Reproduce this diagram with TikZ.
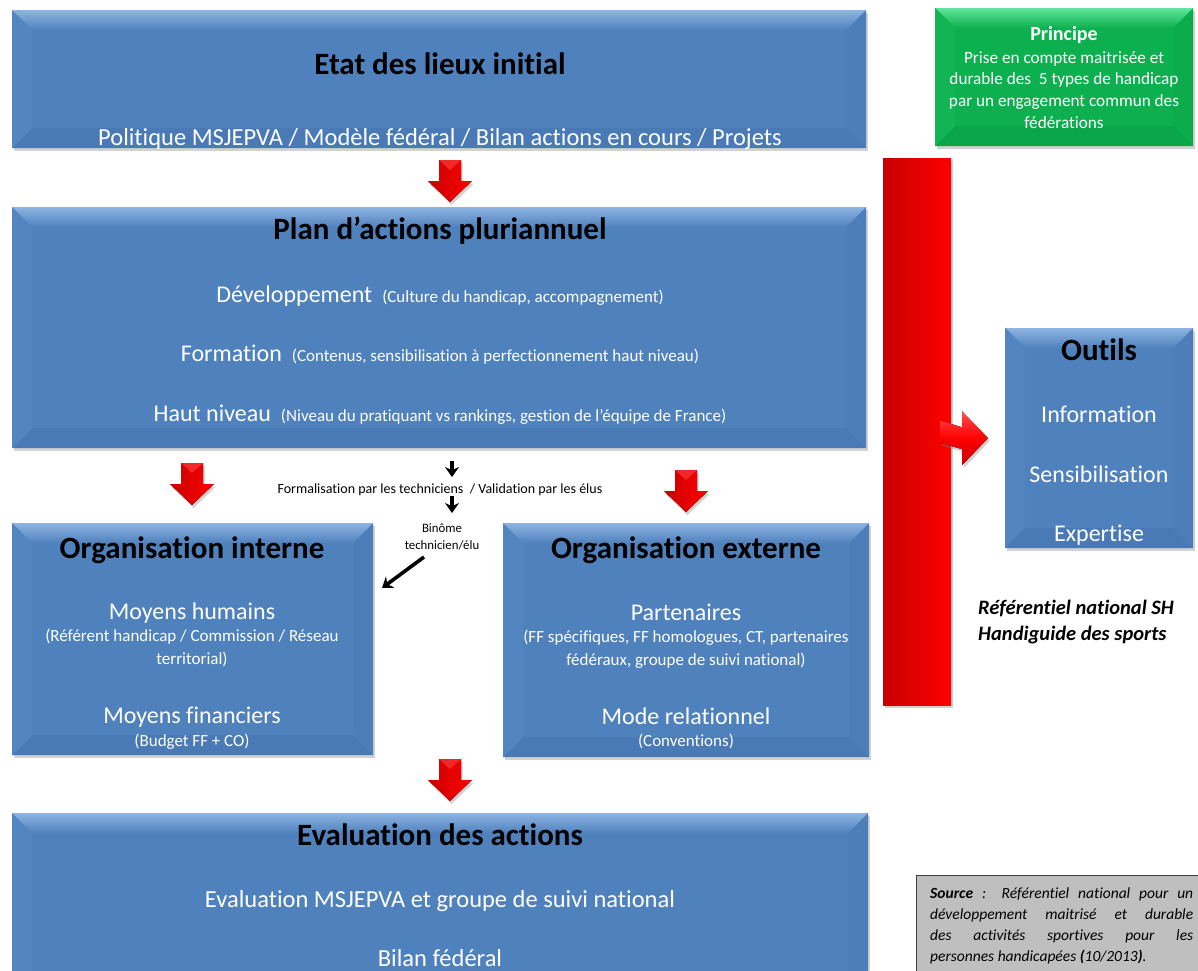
\documentclass[tikz,border=0pt]{standalone}
\usepackage{fontspec}
\setmainfont{Carlito}[Ligatures={NoCommon}]
\usetikzlibrary{calc,shadows,arrows.meta}
\definecolor{bbase}{HTML}{4F81BD}
\definecolor{blight}{HTML}{8DB3E2}
\definecolor{bdark}{HTML}{3E6BA4}
\definecolor{gbase}{HTML}{0DB04F}
\definecolor{glight}{HTML}{5FE59A}
\definecolor{gdark}{HTML}{078C3C}
\definecolor{rdark}{HTML}{C80000}
\definecolor{rlight}{HTML}{FF5050}
\definecolor{srcgray}{HTML}{BFBFBF}
\newcommand\fs[2]{\fontsize{#1}{#2}\selectfont}
\tikzset{
  myshadow/.style={drop shadow={shadow xshift=1.5pt,shadow yshift=-3pt,opacity=.35}},
  bevbox/.style n args={3}{fill=#1, draw=none, inner sep=0, myshadow,
    path picture={
      \def\bv{20}
      \path (path picture bounding box.north west) coordinate (pNW)
            (path picture bounding box.north east) coordinate (pNE)
            (path picture bounding box.south west) coordinate (pSW)
            (path picture bounding box.south east) coordinate (pSE);
      \fill[top color=#2, bottom color=#1] (pNW) -- (pNE) -- ($(pNE)+(-\bv,\bv)$) -- ($(pNW)+(\bv,\bv)$) -- cycle;
      \fill[#1!70!#3] (pSW) -- (pSE) -- ($(pSE)+(-\bv,-\bv)$) -- ($(pSW)+(\bv,-\bv)$) -- cycle;
      \fill[#1!93!#2] (pNW) -- ($(pNW)+(\bv,\bv)$) -- ($(pSW)+(\bv,-\bv)$) -- (pSW) -- cycle;
      \fill[#1!88!#3] (pNE) -- ($(pNE)+(-\bv,\bv)$) -- ($(pSE)+(-\bv,-\bv)$) -- (pSE) -- cycle;
    }},
  bluebox/.style={bevbox={bbase}{blight}{bdark}},
  greenbox/.style={bevbox={gbase}{glight}{gdark}},
  t/.style={inner sep=0, anchor=base, text=white},
  ttl/.style={t, text=black, font=\bfseries\fs{31}{36}},
  big/.style={t, font=\fs{24}{28}},
  par/.style={t, font=\fs{17}{20}},
  blk/.style={line width=3.6pt, -{Stealth[length=10pt,width=14pt]}},
  pics/rdown/.style={code={
    \fill[left color=rdark, right color=red, myshadow]
      (-11,0) -- (11,0) -- (11,21) -- (22,21) -- (0,42) -- (-22,21) -- (-11,21) -- cycle;
    \fill[rlight, opacity=.5] (-11,0) -- (11,0) -- (0,10) -- cycle;
  }}
}
\begin{document}
\begin{tikzpicture}[x=1pt,y=-1pt]
\useasboundingbox (0,0) rectangle (1198,970);
\fill[white] (0,0) rectangle (1198,970);

% ---- boxes
\node[bluebox, minimum width=854, minimum height=138, anchor=north west] (etat) at (12,10) {};
\node[bluebox, minimum width=854, minimum height=241, anchor=north west] (plan) at (12,207) {};
\node[bluebox, minimum width=361, minimum height=232, anchor=north west] (orgint) at (12,523) {};
\node[bluebox, minimum width=366, minimum height=234, anchor=north west] (orgext) at (503,523) {};
\node[bluebox, minimum width=856, minimum height=200, anchor=north west] (eval) at (12,813) {};
\node[bluebox, minimum width=188, minimum height=220, anchor=north west] (outils) at (1005,328) {};
\node[greenbox, minimum width=258, minimum height=138, anchor=north west] (princ) at (935,8) {};

% ---- red bar and its arrow
\node[draw=none, inner sep=0, minimum width=68, minimum height=547, anchor=north west,
      left color=rdark, right color=red, myshadow] (bar) at (883,158) {};
\fill[top color=rlight, bottom color=rdark, middle color=red, myshadow]
  ($(bar.east)+(-11,-11)$) -- ($(outils.west)+(-43,-11)$) -- ($(outils.west)+(-43,-27)$)
  -- ($(outils.west)+(-17,0)$) -- ($(outils.west)+(-43,27)$) -- ($(outils.west)+(-43,11)$)
  -- ($(bar.east)+(-11,11)$) -- cycle;

% ---- red block arrows between boxes
\coordinate (a1) at (450,160);
\coordinate (a2) at (192,463);
\coordinate (a3) at (686,470);
\coordinate (a4) at (450,759);
\pic at (a1) {rdown};
\pic at (a2) {rdown};
\pic at (a3) {rdown};
\pic at (a4) {rdown};

% ---- texts
\node[ttl] (etatT) at (440,74) {Etat des lieux initial};
\node[t, font=\fs{24.5}{28}] (etatS) at (440,145) {Politique MSJEPVA / Modèle fédéral / Bilan actions en cours / Projets};

\node[ttl] (planT) at (440,239) {Plan d’actions pluriannuel};
\node[big] (dev) at (440,302) {Développement\hspace{10pt}{\fs{17}{20}(Culture du handicap, accompagnement)}};
\node[big] (form) at (440,361) {Formation\hspace{10pt}{\fs{17}{20}(Contenus, sensibilisation à perfectionnement haut niveau)}};
\node[big] (haut) at (440,421) {Haut niveau\hspace{10pt}{\fs{17}{20}(Niveau du pratiquant vs rankings, gestion de l’équipe de France)}};

\node[ttl] (oiT) at (192,558) {Organisation interne};
\node[big] (mh) at (192,619) {Moyens humains};
\node[par] (mh1) at (192,641.5) {(Référent handicap / Commission / Réseau};
\node[par] (mh2) at (192,664.5) {territorial)};
\node[big] (mf) at (192,723) {Moyens financiers};
\node[par] (mf1) at (192,746.5) {(Budget FF + CO)};

\node[ttl] (oeT) at (686,558) {Organisation externe};
\node[big] (pa) at (686,620) {Partenaires};
\node[par] (pa1) at (686,642.5) {(FF spécifiques, FF homologues, CT, partenaires};
\node[par] (pa2) at (686,665.5) {fédéraux, groupe de suivi national)};
\node[big] (mr) at (686,724) {Mode relationnel};
\node[par] (mr1) at (686,746.5) {(Conventions)};

\node[ttl] (evT) at (440,845) {Evaluation des actions};
\node[t, font=\fs{24.5}{28}] (ev1) at (440,907) {Evaluation MSJEPVA et groupe de suivi national};
\node[t, font=\fs{24.5}{28}] (ev2) at (440,966) {Bilan fédéral};

\node[ttl] (ouT) at (1099,360) {Outils};
\node[big] (ou1) at (1099,422) {Information};
\node[big] (ou2) at (1099,482) {Sensibilisation};
\node[big] (ou3) at (1099,541) {Expertise};

\node[t, font=\bfseries\fs{20}{24}] (prT) at (1064,40) {Principe};
\node[t, font=\fs{17.2}{20}] (pr1) at (1064,63.6) {Prise en compte maitrisée et};
\node[t, font=\fs{17.2}{20}] (pr2) at (1064,84.8) {durable des~ 5 types de handicap};
\node[t, font=\fs{17.2}{20}] (pr3) at (1064,106.6) {par un engagement commun des};
\node[t, font=\fs{17.2}{20}] (pr4) at (1064,128.6) {fédérations};

\node[t, text=black, anchor=base west, font=\bfseries\itshape\fs{20.5}{24}] (ref1) at (978,614) {Référentiel national SH};
\node[t, text=black, anchor=base west, font=\bfseries\itshape\fs{20.5}{24}] (ref2) at (978,640) {Handiguide des sports};

% ---- middle black arrows and labels
\node[t, text=black, font=\fs{14}{16}] (formal) at (440,493.5) {Formalisation par les techniciens~ / Validation par les élus};
\node[t, text=black, font=\fs{12.8}{15}] (bin1) at (442,532) {Binôme};
\node[t, text=black, font=\fs{12.8}{15}] (bin2) at (442,549) {technicien/élu};
\coordinate (k1) at (452,461);
\coordinate (k2) at (452,477);
\coordinate (k3) at (452,496);
\coordinate (k4) at (452,513);
\draw[blk] (k1) -- (k2);
\draw[blk] (k3) -- (k4);
\coordinate (d1) at (424,557);
\coordinate (d2) at (382,588);
\draw[blk] (d1) -- (d2);

% ---- source box
\node[draw=black!75, fill=srcgray, line width=0.9pt, anchor=north west, minimum width=300,
      minimum height=120, inner sep=0] (srcbox) at (916,875) {};
\node[anchor=north west, text width=263, align=justify, inner sep=0,
      font=\itshape\fs{15.5}{21}] (src) at (930,888)
  {\textbf{Source} : Référentiel national pour un\linebreak développement maitrisé et durable\linebreak des activités sportives pour les\linebreak personnes handicapées \textbf{(}10/2013\textbf{)}.};
\end{tikzpicture}
\end{document}
